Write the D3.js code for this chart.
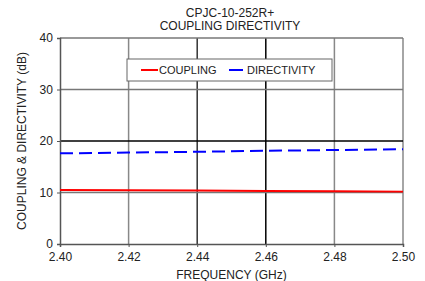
<!DOCTYPE html>
<html>
<head>
<meta charset="utf-8">
<script src="https://cdn.jsdelivr.net/npm/d3@7"></script>
<style>
  body { margin: 0; background: #fff; }
  svg { font-family: Arial, "Liberation Sans", sans-serif; }
</style>
</head>
<body>
<svg width="425" height="281"></svg>
<script>
// Data
const freq = [2.40, 2.42, 2.44, 2.46, 2.48, 2.50];
const coupling = [10.50, 10.44, 10.37, 10.30, 10.24, 10.17];
const directivity = [17.6, 17.75, 17.9, 18.1, 18.25, 18.4];
const xTicks = [2.40, 2.42, 2.44, 2.46, 2.48, 2.50];
const yTicks = [0, 10, 20, 30, 40];

const svg = d3.select("svg"),
    margin = { top: 38, right: 22, bottom: 37, left: 60 },
    width = +svg.attr("width") - margin.left - margin.right,
    height = +svg.attr("height") - margin.top - margin.bottom;

const g = svg.append("g").attr("transform", `translate(${margin.left},${margin.top})`);

const x = d3.scaleLinear().domain([2.40, 2.50]).range([0, width]);
const y = d3.scaleLinear().domain([0, 40]).range([height, 0]);

// Grid lines
g.selectAll(".vgrid")
    .data(xTicks.slice(1))
    .enter().append("line")
    .attr("x1", d => x(d)).attr("x2", d => x(d))
    .attr("y1", 0).attr("y2", height)
    .attr("stroke", d => Math.abs(d - 2.46) < 1e-6 ? "#000" : (Math.abs(d - 2.44) < 1e-6 ? "#333" : "#888"))
    .attr("stroke-width", 1.5);

g.selectAll(".hgrid")
    .data(yTicks.slice(1))
    .enter().append("line")
    .attr("x1", 0).attr("x2", width)
    .attr("y1", d => y(d)).attr("y2", d => y(d))
    .attr("stroke", d => d === 20 ? "#000" : "#777")
    .attr("stroke-width", 1.3);

// Axes
const xAxis = g.append("g")
    .attr("transform", `translate(0,${height})`)
    .call(d3.axisBottom(x).tickValues(xTicks).tickFormat(d3.format(".2f")).tickSize(3));
const yAxis = g.append("g")
    .call(d3.axisLeft(y).tickValues(yTicks).tickSize(3));

[xAxis, yAxis].forEach(a => {
    a.select(".domain").attr("stroke", "#555").attr("stroke-width", 1.5);
    a.selectAll(".tick line").attr("stroke", "#555");
    a.selectAll("text").attr("font-size", 12).attr("fill", "#222").attr("font-family", "Arial, 'Liberation Sans', sans-serif");
});
xAxis.selectAll("text").attr("y", 7).attr("dy", "0.8em");
yAxis.selectAll("text").attr("dx", "-0.1em").attr("dy", "0.3em");

// Lines
const line = d3.line()
    .x((d, i) => x(freq[i]))
    .y(d => y(d));

g.append("path")
    .datum(coupling)
    .attr("fill", "none")
    .attr("stroke", "#ff0000")
    .attr("stroke-width", 2)
    .attr("d", line);

g.append("path")
    .datum(directivity)
    .attr("fill", "none")
    .attr("stroke", "#0000ff")
    .attr("stroke-width", 2)
    .attr("stroke-dasharray", "13,6")
    .attr("d", line);

// Legend
const legend = svg.append("g").attr("transform", "translate(127,59)");
legend.append("rect")
    .attr("width", 205).attr("height", 22)
    .attr("fill", "#fff").attr("stroke", "#666").attr("stroke-width", 1);
legend.append("line")
    .attr("x1", 14).attr("x2", 31).attr("y1", 11).attr("y2", 11)
    .attr("stroke", "#ff0000").attr("stroke-width", 2);
legend.append("text")
    .attr("x", 32).attr("y", 15).attr("font-size", 11).attr("fill", "#222")
    .text("COUPLING");
legend.append("line")
    .attr("x1", 102).attr("x2", 116).attr("y1", 11).attr("y2", 11)
    .attr("stroke", "#0000ff").attr("stroke-width", 2);
legend.append("text")
    .attr("x", 120).attr("y", 15).attr("font-size", 11).attr("fill", "#222")
    .text("DIRECTIVITY");

// Titles
svg.append("text")
    .attr("x", 230).attr("y", 17).attr("text-anchor", "middle")
    .attr("font-size", 12).attr("fill", "#222")
    .text("CPJC-10-252R+");
svg.append("text")
    .attr("x", 230).attr("y", 30).attr("text-anchor", "middle")
    .attr("font-size", 12).attr("fill", "#222")
    .text("COUPLING DIRECTIVITY");

// Axis labels
svg.append("text")
    .attr("x", margin.left + width / 2).attr("y", 279)
    .attr("text-anchor", "middle").attr("font-size", 12).attr("fill", "#222")
    .text("FREQUENCY (GHz)");
svg.append("text")
    .attr("transform", `translate(26,${margin.top + height / 2}) rotate(-90)`)
    .attr("text-anchor", "middle").attr("font-size", 12).attr("fill", "#222")
    .text("COUPLING & DIRECTIVITY (dB)");
</script>
</body>
</html>
